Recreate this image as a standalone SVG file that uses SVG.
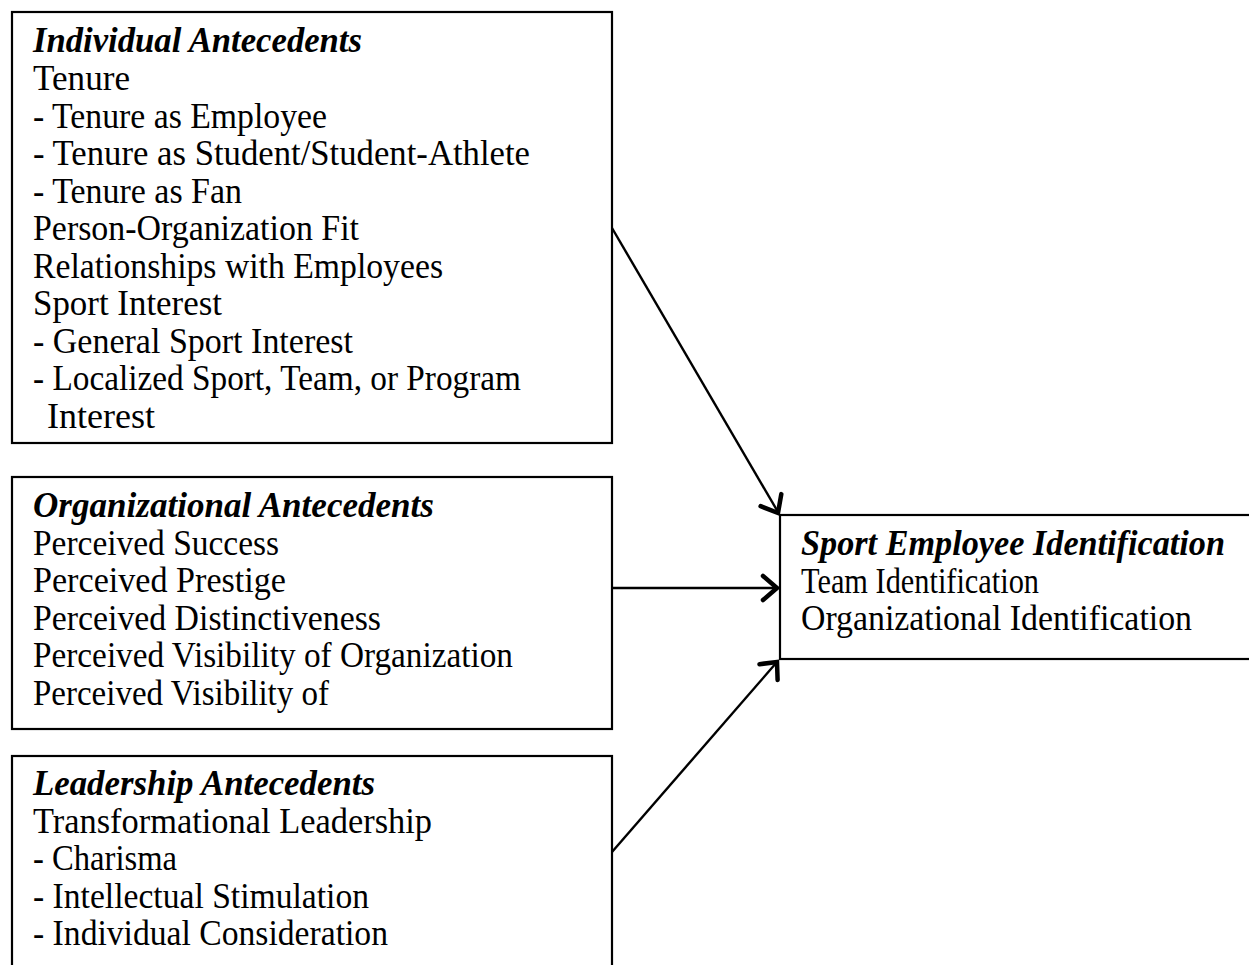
<svg xmlns="http://www.w3.org/2000/svg" width="1249" height="965" viewBox="0 0 1249 965">
  <style>
    .box { fill: #ffffff; stroke: #000000; stroke-width: 2.2; }
    .t { font-family: "Liberation Serif", "Times New Roman", serif; font-size: 35px; fill: #000000; }
    .h { font-weight: bold; font-style: italic; }
    .edge { stroke: #000000; stroke-width: 2.4; fill: none; }
    .head { stroke: #000000; stroke-width: 4.5; fill: none; stroke-linecap: round; stroke-linejoin: miter; }
  </style>

  <rect width="1249" height="965" fill="#ffffff"/>

  <g id="individual-antecedents">
    <rect class="box" x="12" y="12" width="600" height="431"/>
    <text class="t h" x="33" y="52" textLength="329" lengthAdjust="spacingAndGlyphs">Individual Antecedents</text>
    <text class="t" x="33" y="90" textLength="97" lengthAdjust="spacingAndGlyphs">Tenure</text>
    <text class="t" x="33" y="127.5" textLength="294" lengthAdjust="spacingAndGlyphs">- Tenure as Employee</text>
    <text class="t" x="33" y="165" textLength="497" lengthAdjust="spacingAndGlyphs">- Tenure as Student/Student-Athlete</text>
    <text class="t" x="33" y="202.5" textLength="209" lengthAdjust="spacingAndGlyphs">- Tenure as Fan</text>
    <text class="t" x="33" y="240" textLength="326" lengthAdjust="spacingAndGlyphs">Person-Organization Fit</text>
    <text class="t" x="33" y="277.5" textLength="410" lengthAdjust="spacingAndGlyphs">Relationships with Employees</text>
    <text class="t" x="33" y="315" textLength="189" lengthAdjust="spacingAndGlyphs">Sport Interest</text>
    <text class="t" x="33" y="352.5" textLength="320" lengthAdjust="spacingAndGlyphs">- General Sport Interest</text>
    <text class="t" x="33" y="390" textLength="488" lengthAdjust="spacingAndGlyphs">- Localized Sport, Team, or Program</text>
    <text class="t" x="47" y="427.5" textLength="108" lengthAdjust="spacingAndGlyphs">Interest</text>
  </g>

  <g id="organizational-antecedents">
    <rect class="box" x="12" y="477" width="600" height="252"/>
    <text class="t h" x="33" y="517" textLength="401" lengthAdjust="spacingAndGlyphs">Organizational Antecedents</text>
    <text class="t" x="33" y="554.5" textLength="246" lengthAdjust="spacingAndGlyphs">Perceived Success</text>
    <text class="t" x="33" y="592" textLength="253" lengthAdjust="spacingAndGlyphs">Perceived Prestige</text>
    <text class="t" x="33" y="629.5" textLength="348" lengthAdjust="spacingAndGlyphs">Perceived Distinctiveness</text>
    <text class="t" x="33" y="667" textLength="480" lengthAdjust="spacingAndGlyphs">Perceived Visibility of Organization</text>
    <text class="t" x="33" y="704.5" textLength="296" lengthAdjust="spacingAndGlyphs">Perceived Visibility of</text>
  </g>

  <g id="leadership-antecedents">
    <rect class="box" x="12" y="756" width="600" height="240"/>
    <text class="t h" x="33" y="795" textLength="342" lengthAdjust="spacingAndGlyphs">Leadership Antecedents</text>
    <text class="t" x="33" y="832.5" textLength="399" lengthAdjust="spacingAndGlyphs">Transformational Leadership</text>
    <text class="t" x="33" y="870" textLength="144" lengthAdjust="spacingAndGlyphs">- Charisma</text>
    <text class="t" x="33" y="907.5" textLength="336" lengthAdjust="spacingAndGlyphs">- Intellectual Stimulation</text>
    <text class="t" x="33" y="945" textLength="355" lengthAdjust="spacingAndGlyphs">- Individual Consideration</text>
  </g>

  <g id="sport-employee-identification">
    <rect class="box" x="780" y="515" width="480" height="144"/>
    <text class="t h" x="801" y="555" textLength="424" lengthAdjust="spacingAndGlyphs">Sport Employee Identification</text>
    <text class="t" x="801" y="592.5" textLength="238" lengthAdjust="spacingAndGlyphs">Team Identification</text>
    <text class="t" x="801" y="630" textLength="391" lengthAdjust="spacingAndGlyphs">Organizational Identification</text>
  </g>

  <g id="connectors">
    <!-- shafts -->
    <line class="edge" x1="612" y1="228" x2="778" y2="512"/>
    <line class="edge" x1="612" y1="588" x2="777" y2="588"/>
    <line class="edge" x1="612" y1="852" x2="777" y2="662"/>
    <!-- open chevron heads -->
    <polyline class="head" points="760.6,506.2 778,513 781.3,494.1"/>
    <polyline class="head" points="763,576 777,588 763,600"/>
    <polyline class="head" points="759.5,664.2 777,662 777.6,680"/>
  </g>
</svg>
